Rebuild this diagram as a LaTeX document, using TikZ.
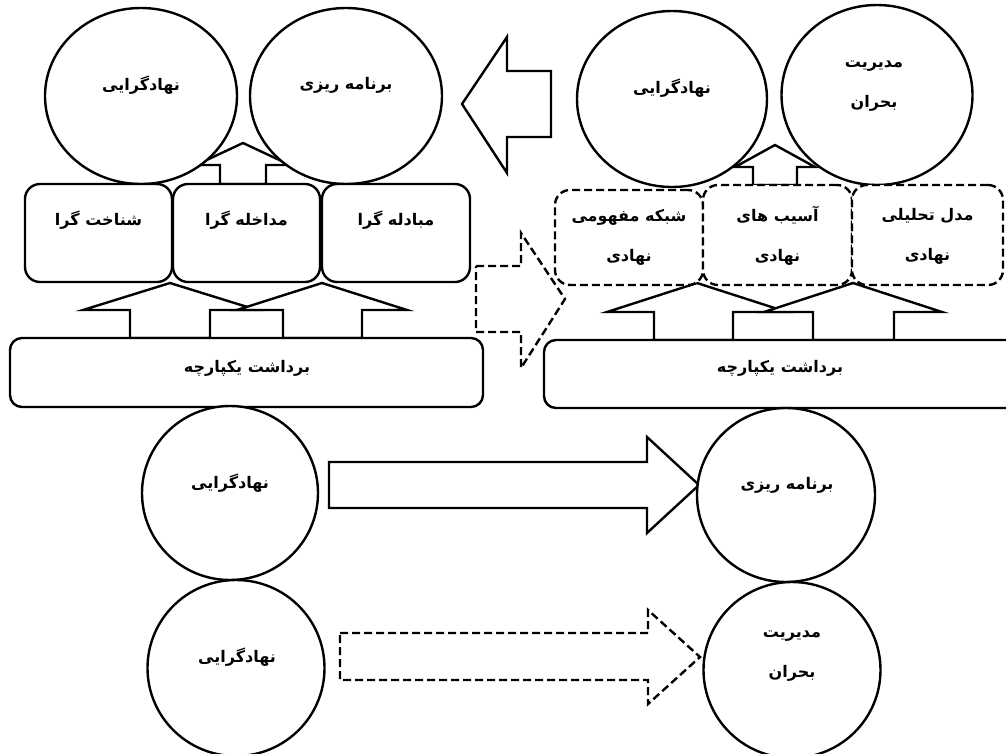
\documentclass[tikz,border=0pt]{standalone}
\usepackage{fontspec}
\newfontfamily\fa[Script=Arabic]{DejaVu Sans Bold}
\TeXXeTstate=1
\usetikzlibrary{shapes.geometric}

\begin{document}
\begin{tikzpicture}
  [x=1pt,y=-1pt,line width=2.4pt,
   every node/.style={font=\fa\fontsize{16}{18}\selectfont},
   bubble/.style={ellipse,draw,fill=white,inner sep=0pt},
   card/.style={rectangle,draw,fill=white,rounded corners=15pt,inner sep=0pt},
   dcard/.style={card,dash pattern=on 8pt off 4pt},
   word/.style={inner sep=1pt,align=center},
   pair/.style={word,font=\fa\fontsize{16}{40}\selectfont},
   dashline/.style={dash pattern=on 8pt off 4pt}]
  \useasboundingbox (0,0) rectangle (1006,753);

  % block arrows
  \draw[fill=white] (220,184) -- (220,165) -- (196,165) -- (243,143) -- (290,165) -- (266,165) -- (266,184) -- cycle;
  \draw[fill=white] (130,338) -- (130,310) -- (83,310) -- (170,283) -- (257,310) -- (210,310) -- (210,338) -- cycle;
  \draw[fill=white] (283,338) -- (283,310) -- (237,310) -- (322,283) -- (407,310) -- (362,310) -- (362,338) -- cycle;
  \draw[fill=white] (753,185) -- (753,167) -- (735,167) -- (775,145) -- (815,167) -- (797,167) -- (797,185) -- cycle;
  \draw[fill=white] (654,340) -- (654,312) -- (607,312) -- (697,283) -- (787,312) -- (733,312) -- (733,340) -- cycle;
  \draw[fill=white] (813,340) -- (813,312) -- (764,312) -- (853,283) -- (942,312) -- (894,312) -- (894,340) -- cycle;
  \draw (551,71) -- (507,71) -- (507,37) -- (462,104) -- (507,173) -- (507,137) -- (551,137) -- cycle;
  \draw[dashline] (476,266) -- (521,266) -- (521,233) -- (565,299) -- (521,368) -- (521,332) -- (476,332) -- cycle;
  \draw (329,462) -- (647,462) -- (647,437) -- (699,485) -- (647,533) -- (647,508) -- (329,508) -- cycle;
  \draw[dashline] (340,633) -- (648,633) -- (648,610) -- (700,657) -- (648,704) -- (648,680) -- (340,680) -- cycle;

  % left group
  \node[bubble,minimum width=192pt,minimum height=176pt] (nl) at (141,96) {};
  \node[bubble,minimum width=192pt,minimum height=176pt] (bl) at (346,96) {};
  \node[card,minimum width=147pt,minimum height=98pt] (sh) at (98.5,233) {};
  \node[card,minimum width=147pt,minimum height=98pt] (md) at (246.5,233) {};
  \node[card,minimum width=148pt,minimum height=98pt] (mb) at (396,233) {};
  \node[card,rounded corners=12pt,minimum width=473pt,minimum height=69pt] (yl) at (246.5,372.5) {};

  \node[word] (nlt) at (141,85) {\beginR نهادگرایی\endR};
  \node[word] (blt) at (346,85) {\beginR برنامه ریزی\endR};
  \node[word] (sht) at (98.5,220) {\beginR شناخت گرا\endR};
  \node[word] (mdt) at (246.5,220) {\beginR مداخله گرا\endR};
  \node[word] (mbt) at (396,220) {\beginR مبادله گرا\endR};
  \node[word] (ylt) at (247,368) {\beginR برداشت یکپارچه\endR};

  % right group
  \node[bubble,minimum width=190pt,minimum height=176pt] (nr) at (672,99) {};
  \node[bubble,minimum width=191pt,minimum height=180pt] (mr) at (877,95) {};
  \node[dcard,minimum width=148pt,minimum height=95pt] (sm) at (629,237.5) {};
  \node[dcard,minimum width=149pt,minimum height=100pt] (as) at (777.5,235) {};
  \node[dcard,minimum width=151pt,minimum height=100pt] (mt) at (927.5,235) {};
  \node[card,rounded corners=12pt,minimum width=486pt,minimum height=68pt] (yr) at (787,374) {};

  \node[word] (nrt) at (672,88) {\beginR نهادگرایی\endR};
  \node[pair] (mrt) at (874,86) {\beginR مدیریت\endR\\\beginR بحران\endR};
  \node[pair] (smt) at (629,237) {\beginR شبکه مفهومی\endR\\\beginR نهادی\endR};
  \node[pair] (ast) at (777.5,236) {\beginR آسیب های\endR\\\beginR نهادی\endR};
  \node[pair] (mtt) at (927.5,236) {\beginR مدل تحلیلی\endR\\\beginR نهادی\endR};
  \node[word] (yrt) at (780,368) {\beginR برداشت یکپارچه\endR};

  % lower pairs
  \node[bubble,minimum width=176pt,minimum height=174pt] (n1) at (230,493) {};
  \node[bubble,minimum width=177pt,minimum height=176pt] (n2) at (236,668) {};
  \node[bubble,minimum width=178pt,minimum height=174pt] (b1) at (786,495) {};
  \node[bubble,minimum width=177pt,minimum height=176pt] (m1) at (792,670) {};

  \node[word] (n1t) at (230,483) {\beginR نهادگرایی\endR};
  \node[word] (n2t) at (237,657) {\beginR نهادگرایی\endR};
  \node[word] (b1t) at (787,485) {\beginR برنامه ریزی\endR};
  \node[pair] (m1t) at (792,656) {\beginR مدیریت\endR\\\beginR بحران\endR};
\end{tikzpicture}
\end{document}
